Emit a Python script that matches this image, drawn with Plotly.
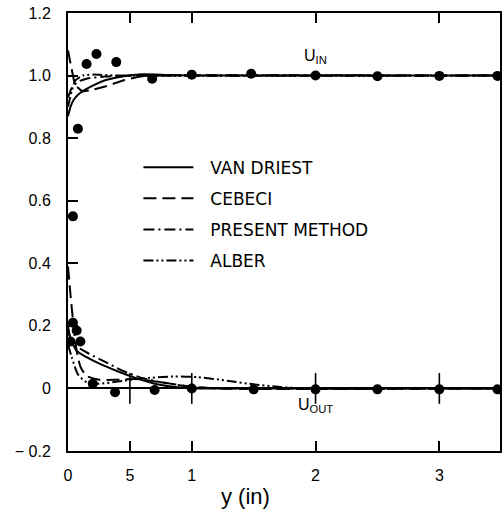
import plotly.graph_objects as go

# Measured mean velocity ratios (filled dots)
y_in_pts = [0.04, 0.08, 0.15, 0.23, 0.39, 0.68, 1.0, 1.48, 2.0, 2.5, 3.0, 3.47]
u_in_pts = [0.55, 0.83, 1.037, 1.069, 1.043, 0.99, 1.003, 1.006, 1.0, 0.998, 0.999, 0.999]
y_out_pts = [0.02, 0.04, 0.07, 0.10, 0.20, 0.38, 0.70, 1.0, 1.5, 2.0, 2.5, 3.0, 3.47]
u_out_pts = [0.15, 0.21, 0.185, 0.15, 0.015, -0.012, -0.005, 0.0, -0.003, -0.003, -0.003, -0.003, -0.003]

# Van Driest model
vd_in_y = [0.0, 0.02, 0.05, 0.1, 0.2, 0.3, 0.45, 0.6, 0.8, 1.0, 3.49]
vd_in_u = [0.87, 0.90, 0.925, 0.945, 0.968, 0.985, 0.998, 1.004, 1.002, 1.0, 1.0]
vd_out_y = [0.0, 0.02, 0.07, 0.15, 0.25, 0.4, 0.55, 0.7, 0.85, 1.0, 1.5, 3.49]
vd_out_u = [0.2, 0.16, 0.12, 0.10, 0.08, 0.055, 0.033, 0.015, 0.005, 0.0, 0.0, 0.0]

# Cebeci model
cb_in_y = [0.0, 0.03, 0.06, 0.12, 0.2, 0.3, 0.45, 0.6, 0.8, 3.49]
cb_in_u = [1.08, 1.02, 0.97, 0.95, 0.955, 0.965, 0.985, 0.998, 1.0, 1.0]
cb_out_y = [0.0, 0.02, 0.045, 0.07, 0.1, 0.15, 0.25, 0.4, 0.55, 0.75, 0.95, 1.2, 3.49]
cb_out_u = [0.39, 0.30, 0.20, 0.12, 0.07, 0.04, 0.028, 0.028, 0.03, 0.02, 0.008, 0.0, 0.0]

# Present method
pm_in_y = [0.0, 0.03, 0.08, 0.15, 0.3, 0.5, 3.49]
pm_in_u = [0.93, 0.96, 0.98, 0.99, 0.997, 1.0, 1.0]
pm_out_y = [0.0, 0.05, 0.15, 0.3, 0.45, 0.6, 0.75, 0.9, 1.1, 1.3, 3.49]
pm_out_u = [0.18, 0.14, 0.115, 0.085, 0.055, 0.033, 0.02, 0.01, 0.002, 0.0, 0.0]

# Alber model
al_in_y = [0.0, 0.03, 0.06, 0.12, 0.2, 0.4, 3.49]
al_in_u = [0.90, 0.95, 0.985, 1.0, 1.003, 1.0, 1.0]
al_out_y = [0.0, 0.03, 0.08, 0.15, 0.25, 0.4, 0.6, 0.85, 1.05, 1.3, 1.5, 1.7, 1.9, 3.49]
al_out_u = [0.14, 0.10, 0.045, 0.02, 0.015, 0.022, 0.032, 0.038, 0.036, 0.024, 0.013, 0.005, 0.0, 0.0]

x_tickvals = [0, 0.5, 1, 2, 3]
x_ticktext = ["0", "5", "1", "2", "3"]
y_tickvals = [-0.2, 0, 0.2, 0.4, 0.6, 0.8, 1.0, 1.2]
y_ticktext = ["\u2212 0.2", "0", "0.2", "0.4", "0.6", "0.8", "1.0", "1.2"]
zero_ticks = [0.5, 1, 2, 3]

models = [
    ("VAN DRIEST", vd_in_y, vd_in_u, vd_out_y, vd_out_u, "solid"),
    ("CEBECI", cb_in_y, cb_in_u, cb_out_y, cb_out_u, "13px,6px"),
    ("PRESENT METHOD", pm_in_y, pm_in_u, pm_out_y, pm_out_u, "11px,4px,2px,4px"),
    ("ALBER", al_in_y, al_in_u, al_out_y, al_out_u, "10px,3px,2px,3px,2px,3px"),
]

fig = go.Figure()
for i, (name, yi, ui, yo, uo, dash) in enumerate(models):
    fig.add_trace(go.Scatter(
        x=yi + [None] + yo, y=ui + [None] + uo, mode="lines",
        name="\u2002\u2009" + name,
        legendgroup=f"g{i}",
        line=dict(color="black", width=2, dash=dash, shape="spline", smoothing=0.6),
        connectgaps=False,
    ))

# crossing tick marks along the zero line
fig.add_trace(go.Scatter(
    x=zero_ticks, y=[0] * len(zero_ticks), mode="markers", showlegend=False,
    marker=dict(symbol="line-ns", size=22, line=dict(color="black", width=1.6)),
))

fig.add_trace(go.Scatter(
    x=y_in_pts + y_out_pts, y=u_in_pts + u_out_pts, mode="markers", showlegend=False,
    marker=dict(color="black", size=10),
))

fig.add_annotation(x=2.0, y=1.06, text="U<sub>IN</sub>", showarrow=False,
                   font=dict(family="Liberation Sans", size=16, color="black"))
fig.add_annotation(x=2.0, y=-0.055, text="U<sub>OUT</sub>", showarrow=False,
                   font=dict(family="Liberation Sans", size=16, color="black"))
fig.add_annotation(xref="paper", yref="paper", x=0.41, y=-0.105,
                   xanchor="center", yanchor="middle", text="y (in)", showarrow=False,
                   font=dict(family="Liberation Sans", size=22, color="black"))

fig.update_layout(
    width=504, height=522,
    margin=dict(l=68, r=2, t=13, b=71),
    paper_bgcolor="white", plot_bgcolor="white",
    font=dict(family="Liberation Sans", size=16, color="black"),
    showlegend=True,
    legend=dict(
        x=0.163, y=0.688, xanchor="left", yanchor="top",
        bgcolor="rgba(0,0,0,0)", traceorder="grouped", tracegroupgap=6,
        itemwidth=50,
        font=dict(family="DejaVu Sans", size=17, color="black"),
    ),
    xaxis=dict(
        range=[0, 3.49], tickvals=x_tickvals, ticktext=x_ticktext,
        ticks="inside", ticklen=10, tickwidth=1.6, tickcolor="black",
        showline=True, linecolor="black", linewidth=2, mirror="ticks",
        showgrid=False, zeroline=False, ticklabelstandoff=9,
        tickfont=dict(size=16),
    ),
    yaxis=dict(
        range=[-0.2, 1.2], tickvals=y_tickvals, ticktext=y_ticktext,
        ticks="inside", ticklen=10, tickwidth=1.6, tickcolor="black",
        showline=True, linecolor="black", linewidth=2, mirror=True,
        showgrid=False, zeroline=True, zerolinecolor="black", zerolinewidth=1.6,
        ticklabelstandoff=12, tickfont=dict(size=16),
    ),
)

fig.write_html("out.html")
